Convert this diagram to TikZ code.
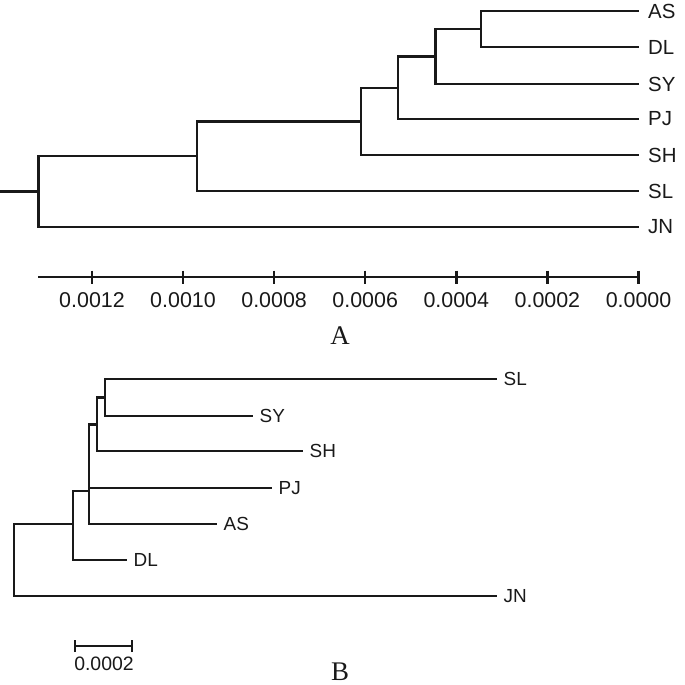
\documentclass[tikz,border=0pt]{standalone}
\usepackage{fontspec}
\setmainfont{Liberation Serif}
\setsansfont{Liberation Sans}
\begin{document}
\begin{tikzpicture}[x=1bp,y=-1bp,
  branchA/.style={line width=2.4bp, draw=black!90},
  branchB/.style={line width=2.8bp, draw=black!90},
  leafA/.style={anchor=west, inner sep=0pt, text=black!90, font=\sffamily\fontsize{20.5}{20.5}\selectfont},
  leafB/.style={anchor=west, inner sep=0pt, text=black!90, font=\sffamily\fontsize{19}{19}\selectfont},
  ticklab/.style={anchor=center, inner sep=0pt, text=black!90, font=\sffamily\fontsize{21.5}{21.5}\selectfont},
  barlab/.style={anchor=center, inner sep=0pt, text=black!90, font=\sffamily\fontsize{19.5}{19.5}\selectfont},
  panellab/.style={anchor=center, inner sep=0pt, text=black!90, font=\rmfamily\fontsize{27}{27}\selectfont}]
\useasboundingbox (0,0) rectangle (685,685);

% ---------------- Panel A ----------------
\coordinate (aAS) at (639,11);
\coordinate (aDL) at (639,47);
\coordinate (aSY) at (639,84);
\coordinate (aPJ) at (639,119);
\coordinate (aSH) at (639,155);
\coordinate (aSL) at (639,191);
\coordinate (aJN) at (639,227);
\coordinate (a1) at (481,29);
\coordinate (a2) at (435.5,56.5);
\coordinate (a3) at (398,87.75);
\coordinate (a4) at (361,121.4);
\coordinate (a5) at (197,156.2);
\coordinate (aroot) at (38.6,191.6);
\coordinate (astub) at (0,191.6);

\foreach \n in {AS,DL,SY,PJ,SH,SL,JN}
  \node[leafA] (la\n) at ([xshift=9bp]a\n) {\n};

\draw[branchA] (a1) |- (aAS);
\draw[branchA] (a1) |- (aDL);
\draw[branchA] (a2) |- (a1);
\draw[branchA] (a2) |- (aSY);
\draw[branchA] (a3) |- (a2);
\draw[branchA] (a3) |- (aPJ);
\draw[branchA] (a4) |- (a3);
\draw[branchA] (a4) |- (aSH);
\draw[branchA] (a5) |- (a4);
\draw[branchA] (a5) |- (aSL);
\draw[branchA] (aroot) |- (a5);
\draw[branchA] (aroot) |- (aJN);
\draw[branchA] (astub) -- (aroot);

% axis
\coordinate (axL) at (38,277);
\coordinate (axR) at (639,277);
\draw[branchA] (axL) -- (axR);
\foreach \v/\x in {0012/92, 0010/183, 0008/274.1, 0006/365.2, 0004/456.3, 0002/547.4, 0000/638.5}{
  \coordinate (tk\v) at (\x,277);
  \draw[branchA] ([yshift=6.5bp]tk\v) -- ([yshift=-6.5bp]tk\v);
  \node[ticklab] (tl\v) at (\x,300.5) {0.\v};
}
\node[panellab] (labA) at (340,336) {A};

% ---------------- Panel B ----------------
\coordinate (bSL) at (497,379);
\coordinate (bSY) at (253,416);
\coordinate (bSH) at (303,451);
\coordinate (bPJ) at (272,488);
\coordinate (bAS) at (217,524);
\coordinate (bDL) at (127,560);
\coordinate (bJN) at (497,596);
\coordinate (b1) at (105,397.5);
\coordinate (b2) at (97,424.5);
\coordinate (b3) at (89,491);
\coordinate (b4) at (73,524);
\coordinate (broot) at (14,560);

\foreach \n in {SL,SY,SH,PJ,AS,DL,JN}
  \node[leafB] (lb\n) at ([xshift=6.5bp]b\n) {\n};

\draw[branchB] (b1) |- (bSL);
\draw[branchB] (b1) |- (bSY);
\draw[branchB] (b2) |- (b1);
\draw[branchB] (b2) |- (bSH);
\draw[branchB] (b3) |- (b2);
\draw[branchB] (b3) |- (bPJ);
\draw[branchB] (b3) |- (bAS);
\draw[branchB] (b4) |- (b3);
\draw[branchB] (b4) |- (bDL);
\draw[branchB] (broot) |- (b4);
\draw[branchB] (broot) |- (bJN);

% scale bar
\coordinate (sbL) at (75,646);
\coordinate (sbR) at (132,646);
\draw[branchB] (sbL) -- (sbR);
\draw[branchB] ([yshift=-6bp]sbL) -- ([yshift=6bp]sbL);
\draw[branchB] ([yshift=-6bp]sbR) -- ([yshift=6bp]sbR);
\node[barlab] (sbtext) at (104,664) {0.0002};
\node[panellab] (labB) at (340,671.5) {B};
\end{tikzpicture}
\end{document}
